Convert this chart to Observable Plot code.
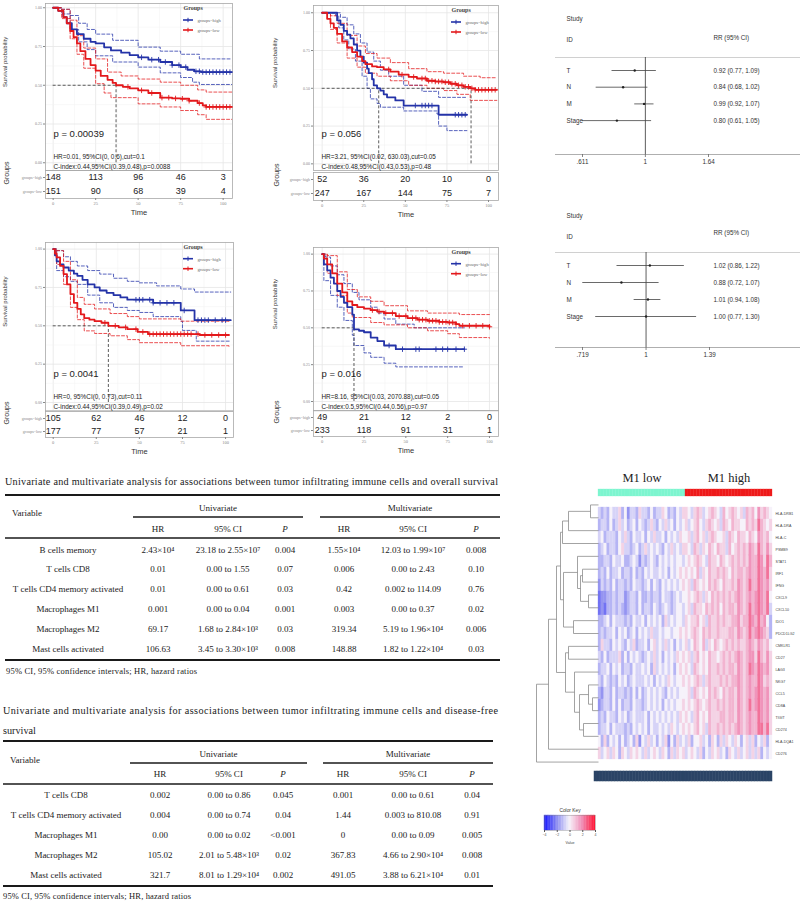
<!DOCTYPE html>
<html><head><meta charset="utf-8">
<script src="https://cdn.jsdelivr.net/npm/d3@7"></script>
<script src="https://cdn.jsdelivr.net/npm/@observablehq/plot@0.6"></script>
<style>
html,body{margin:0;padding:0;background:#fff;}
#root{position:relative;width:800px;height:901px;overflow:hidden;background:#fff;}
.box{position:absolute;}
.box svg{display:block;}
</style></head><body><div id="root"></div>
<script>
// ================= DATA =================
const groupNames = ["groups=high", "groups=low"];
const riskTimes = [0, 25, 50, 75, 100];
const gridMajorX = [0, 25, 50, 75, 100], gridMinorX = [12.5, 37.5, 62.5, 87.5];
const gridMajorY = [0, 0.25, 0.5, 0.75, 1], gridMinorY = [0.125, 0.375, 0.625, 0.875];

// Panel 1
const km1High = [[0,1],[3,0.98],[6,0.94],[8,0.9],[11,0.86],[14,0.83],[18,0.8],[22,0.78],[25,0.77],[30,0.745],[34,0.725],[40,0.71],[45,0.695],[50,0.68],[56,0.665],[63,0.65],[70,0.63],[75,0.617],[79,0.6],[83,0.59],[87,0.585],[105,0.585]];
const km1Low = [[0,1],[3,0.98],[6,0.94],[8,0.9],[10,0.85],[12,0.81],[14,0.77],[16,0.72],[19,0.67],[22,0.63],[25,0.595],[28,0.56],[32,0.535],[35,0.515],[37,0.5],[41,0.49],[45,0.48],[50,0.467],[56,0.45],[63,0.42],[70,0.415],[75,0.413],[80,0.4],[85,0.385],[88,0.37],[90,0.36],[105,0.36]];
const km1HighUp = [[0,1],[5,0.99],[10,0.95],[15,0.9],[20,0.86],[25,0.83],[35,0.79],[50,0.746],[63,0.72],[75,0.7],[86,0.67],[105,0.67]];
const km1HighLo = [[0,1],[5,0.96],[10,0.86],[15,0.78],[20,0.73],[25,0.69],[35,0.65],[50,0.617],[63,0.58],[75,0.55],[82,0.52],[86,0.505],[105,0.505]];
const km1LowUp = [[0,1],[5,0.99],[10,0.92],[14,0.82],[18,0.74],[25,0.67],[32,0.585],[40,0.56],[50,0.54],[63,0.52],[75,0.5],[85,0.47],[90,0.456],[105,0.456]];
const km1LowLo = [[0,1],[5,0.93],[10,0.8],[14,0.7],[18,0.61],[25,0.51],[30,0.45],[34,0.42],[50,0.38],[63,0.36],[75,0.337],[85,0.31],[90,0.28],[105,0.28]];
const km1CensHigh = [52,58,62,66,70,74,78,84,86,88,90,92,94,96,98,100,102,104];
const km1CensLow = [44,52,58,64,68,72,76,80,86,90,92,94,96,98,100,102,104];
const km1Median = [37];
const km1RiskHigh = [148,113,96,46,3], km1RiskLow = [151,90,68,39,4];
const km1P = "p = 0.00039";
const km1HR = "HR=0.01, 95%CI(0, 0.6),cut=0.1";
const km1C = "C-index:0.44,95%CI(0.39,0.48),p=0.0088";

// Panel 2
const km2High = [[0,1],[8,1],[9,0.95],[11,0.92],[13,0.88],[15,0.855],[17,0.83],[19,0.79],[21,0.75],[23,0.71],[25,0.67],[27,0.63],[28,0.6],[30,0.56],[31,0.52],[33,0.5],[35,0.485],[37,0.46],[39,0.44],[44,0.42],[49,0.386],[69,0.386],[70,0.325],[87,0.325]];
const km2Low = [[0,1],[3,0.96],[5,0.93],[7,0.9],[9,0.86],[12,0.81],[15,0.77],[18,0.74],[21,0.71],[24,0.68],[26,0.66],[30,0.645],[33,0.64],[37,0.625],[41,0.61],[46,0.59],[52,0.575],[57,0.565],[63,0.55],[68,0.545],[73,0.54],[77,0.53],[81,0.52],[85,0.51],[89,0.5],[92,0.49],[105,0.49]];
const km2HighUp = [[0,1],[9,1],[11,0.97],[15,0.92],[19,0.86],[23,0.8],[27,0.74],[31,0.68],[35,0.62],[40,0.58],[49,0.52],[60,0.48],[70,0.44],[87,0.44]];
const km2HighLo = [[0,1],[8,0.98],[10,0.9],[13,0.82],[16,0.76],[20,0.68],[24,0.58],[27,0.5],[29,0.43],[33,0.4],[35,0.375],[49,0.35],[69,0.33],[70,0.25],[75,0.22],[87,0.22]];
const km2LowUp = [[0,1],[5,0.98],[9,0.93],[15,0.85],[21,0.78],[26,0.73],[33,0.7],[41,0.67],[52,0.63],[63,0.61],[73,0.6],[85,0.58],[95,0.57],[105,0.57]];
const km2LowLo = [[0,1],[5,0.89],[9,0.8],[15,0.7],[21,0.64],[26,0.6],[33,0.58],[41,0.55],[52,0.52],[63,0.5],[73,0.485],[81,0.46],[89,0.42],[105,0.42]];
const km2CensHigh = [56,60,62,64,66,80,82,84,86];
const km2CensLow = [40,48,55,60,62,64,66,68,70,72,74,76,78,80,82,84,86,88,90,92,94,96,98,100,102,104];
const km2Median = [34, 89.5];
const km2RiskHigh = [52,36,20,10,0], km2RiskLow = [247,167,144,75,7];
const km2P = "p = 0.056";
const km2HR = "HR=3.21, 95%CI(0.02, 630.03),cut=0.05";
const km2C = "C-index:0.48,95%CI(0.43,0.53),p=0.48";

// Panel 3
const km3High = [[0,1],[1,0.96],[2,0.92],[4,0.9],[6,0.88],[9,0.86],[12,0.84],[14,0.826],[17,0.8],[20,0.77],[24,0.75],[27,0.73],[31,0.715],[35,0.7],[39,0.685],[43,0.67],[57,0.67],[58,0.65],[73,0.65],[74,0.6],[81,0.6],[82,0.537],[103,0.537]];
const km3Low = [[0,1],[1,0.97],[2,0.946],[4,0.89],[6,0.837],[8,0.77],[10,0.707],[12,0.65],[14,0.61],[16,0.575],[18,0.55],[21,0.54],[24,0.53],[28,0.52],[32,0.5],[38,0.49],[43,0.478],[49,0.46],[55,0.446],[85,0.44],[102,0.44]];
const km3HighUp = [[0,1],[2,0.99],[6,0.95],[10,0.92],[14,0.89],[20,0.86],[27,0.837],[35,0.81],[43,0.79],[50,0.78],[60,0.76],[74,0.74],[82,0.72],[103,0.72]];
const km3HighLo = [[0,1],[2,0.86],[6,0.82],[10,0.79],[14,0.77],[20,0.7],[27,0.65],[35,0.62],[43,0.6],[50,0.587],[58,0.56],[74,0.53],[75,0.47],[82,0.47],[83,0.4],[103,0.4]];
const km3LowUp = [[0,1],[2,0.99],[6,0.92],[10,0.8],[14,0.685],[18,0.64],[24,0.61],[33,0.58],[43,0.56],[50,0.545],[74,0.53],[102,0.52]];
const km3LowLo = [[0,1],[2,0.9],[6,0.77],[10,0.62],[14,0.54],[18,0.467],[24,0.45],[33,0.435],[43,0.41],[50,0.39],[74,0.37],[102,0.363]];
const km3CensHigh = [48,50,52,56,58,62,66,70,76,84,86,88,90,94,98,100];
const km3CensLow = [30,36,42,48,52,56,58,60,62,64,66,68,70,72,74,76,78,80,84,88,92,96,100];
const km3Median = [32];
const km3RiskHigh = [105,62,46,12,0], km3RiskLow = [177,77,57,21,1];
const km3P = "p = 0.0041";
const km3HR = "HR=0, 95%CI(0, 0.73),cut=0.11";
const km3C = "C-index:0.44,95%CI(0.39,0.49),p=0.02";

// Panel 4
const km4High = [[0,1],[1,0.93],[3,0.89],[5,0.84],[7,0.8],[9,0.75],[11,0.71],[13,0.67],[15,0.64],[18,0.59],[19,0.49],[22,0.48],[25,0.47],[29,0.434],[33,0.41],[37,0.38],[44,0.355],[85,0.355]];
const km4Low = [[0,1],[1,0.97],[3,0.93],[6,0.87],[9,0.8],[12,0.74],[15,0.68],[18,0.655],[21,0.64],[25,0.63],[29,0.62],[33,0.61],[37,0.6],[44,0.58],[51,0.566],[57,0.555],[63,0.548],[70,0.54],[75,0.536],[80,0.525],[82,0.514],[100,0.507]];
const km4HighUp = [[0,1],[2,0.98],[5,0.92],[9,0.86],[13,0.8],[18,0.74],[22,0.69],[29,0.64],[33,0.6],[37,0.56],[44,0.525],[55,0.5],[85,0.5]];
const km4HighLo = [[0,1],[1,0.82],[5,0.72],[9,0.64],[13,0.55],[18,0.45],[19,0.38],[25,0.33],[29,0.3],[37,0.26],[44,0.235],[85,0.235]];
const km4LowUp = [[0,1],[3,0.99],[9,0.88],[15,0.76],[21,0.71],[29,0.68],[37,0.65],[51,0.615],[63,0.6],[82,0.59],[100,0.59]];
const km4LowLo = [[0,1],[3,0.87],[9,0.72],[15,0.6],[18,0.57],[29,0.536],[37,0.52],[51,0.5],[63,0.48],[75,0.46],[82,0.434],[100,0.43]];
const km4CensHigh = [40,48,56,58,68,72,75,80,85];
const km4CensLow = [30,34,38,42,46,50,54,56,58,60,62,64,66,68,70,72,74,76,78,80,84,88,92,96,100];
const km4Median = [19];
const km4RiskHigh = [49,21,12,2,0], km4RiskLow = [233,118,91,31,1];
const km4P = "p = 0.016";
const km4HR = "HR=8.16, 95%CI(0.03, 2070.88),cut=0.05";
const km4C = "C-index:0.5,95%CI(0.44,0.56),p=0.97";

// Forest plots
const forestVars = ["T", "N", "M", "Stage"];
const forest1RR = [0.92, 0.84, 0.99, 0.80], forest1Lo = [0.77, 0.68, 0.92, 0.61], forest1Hi = [1.09, 1.02, 1.07, 1.05];
const forest1Ticks = [0.611, 1, 1.64], forest1TickLabels = [".611", "1", "1.64"];
const forest2RR = [1.02, 0.88, 1.01, 1.00], forest2Lo = [0.86, 0.72, 0.94, 0.77], forest2Hi = [1.22, 1.07, 1.08, 1.30];
const forest2Ticks = [0.719, 1, 1.39], forest2TickLabels = [".719", "1", "1.39"];

// Tables
const tableColumns = ["HR", "95% CI", "P", "HR", "95% CI", "P"];
const osTitle = ["Univariate and multivariate analysis for associations between tumor infiltrating immune cells and overall survival"];
const osVars = ["B cells memory","T cells CD8","T cells CD4 memory activated","Macrophages M1","Macrophages M2","Mast cells activated"];
const osUniHR = ["2.43×10⁴","0.01","0.01","0.001","69.17","106.63"];
const osUniCI = ["23.18 to 2.55×10⁷","0.00 to 1.55","0.00 to 0.61","0.00 to 0.04","1.68 to 2.84×10³","3.45 to 3.30×10³"];
const osUniP = ["0.004","0.07","0.03","0.001","0.03","0.008"];
const osMulHR = ["1.55×10⁴","0.006","0.42","0.003","319.34","148.88"];
const osMulCI = ["12.03 to 1.99×10⁷","0.00 to 2.43","0.002 to 114.09","0.00 to 0.37","5.19 to 1.96×10⁴","1.82 to 1.22×10⁴"];
const osMulP = ["0.008","0.10","0.76","0.02","0.006","0.03"];
const dfsTitle = ["Univariate and multivariate analysis for associations between tumor infiltrating immune cells and disease-free", "survival"];
const dfsVars = ["T cells CD8","T cells CD4 memory activated","Macrophages M1","Macrophages M2","Mast cells activated"];
const dfsUniHR = ["0.002","0.004","0.00","105.02","321.7"];
const dfsUniCI = ["0.00 to 0.86","0.00 to 0.74","0.00 to 0.02","2.01 to 5.48×10³","8.01 to 1.29×10⁴"];
const dfsUniP = ["0.045","0.04","<0.001","0.02","0.002"];
const dfsMulHR = ["0.001","1.44","0","367.83","491.05"];
const dfsMulCI = ["0.00 to 0.61","0.003 to 810.08","0.00 to 0.09","4.66 to 2.90×10⁴","3.88 to 6.21×10⁴"];
const dfsMulP = ["0.04","0.91","0.005","0.008","0.01"];
const footnote = "95% CI, 95% confidence intervals; HR, hazard ratios";

// Heatmap
const heatGenes = ["HLA-DRB1","HLA-DRA","HLA-C","PSMB9","STAT1","IRF1","IFNG","CXCL9","CXCL10","IDO1","PDCD1LG2","CMKLR1","CD27","LAG3","NKG7","CCL5","CD8A","TIGIT","CD274","HLA-DQA1","CD276"];
const heatGroups = ["M1 low", "M1 high"];
const heatGroupSizes = [30, 30];
// one digit per sample: 1 = strong blue ... 5 = neutral ... 9 = strong red
const heatRows = [
"4343544635 2443644353 4465343546 6546764567 6547567656 4767586765",
"3443534645 3453543464 3546453545 6456754676 5647657665 5767697656",
"4534443546 4354453546 4453545465 5646756467 6556476576 6576587675",
"3453443564 4345346454 5435464546 6547646576 5766475676 7687697686",
"3344354453 3454243454 3545454554 5656765476 6576567676 7687798697",
"3435344534 4353435454 4545354565 6565746576 6767657677 6787798796",
"2434353443 4354434535 4354545456 5647656576 7657667687 6797798786",
"1223343442 3443533434 4354434545 5656764657 6767676787 6787898795",
"1213343432 3443534435 4345434554 5647665767 6757677687 6797898794",
"3345354443 4354453545 4536454554 6566756476 6767667786 7798797853",
"3434453545 3453545464 4545545565 6567657676 6766677687 6797898763",
"3644354543 5463445356 4546453545 6457657465 7656767676 6787687675",
"4353444635 3545434546 4535454656 5646756576 6567676787 6788697686",
"3445354534 4354454536 4545453565 6547656576 6767677687 6798798786",
"4354343545 3454445453 5454654556 5656764676 6676767787 6787798676",
"3244353443 4353534545 4543545455 5647656576 7657677687 6787898786",
"2344353534 4354434545 4535454556 5656765676 6767677687 6797898786",
"3435443545 3454445354 5454545465 6546756576 6677677687 6787798786",
"3445354443 4354545354 4545465456 5656756476 6767676787 6787799796",
"5363545353 4536254645 3546253645 4635564536 5364654653 5646354635",
"6456465365 4656546456 5465364656 4565463546 5645365464 5646463545"
];
// dendrogram: [mergeHeight, left, right], leaves = row index
const heatTree = [62, [50, [42, [38, [36, [30, [8, 0, 1], 2], 3], [35, [21, 4, [18, [16, 5, 6], [10, 7, 8]]], [25, 9, 10]]], [33, [30, 11, 12], [24, 13, [19, [10, 14, [6, 15, 16]], [15, 17, 18]]]]], 19], 20];
const colorKeyTicks = [-4, -2, 0, 2, 4];

// ================= STYLE / LAYOUT =================
const SANS = "Liberation Sans, Arial, sans-serif";
const SERIF = "Liberation Serif, Times New Roman, serif";
const BLUE = "#2433a8", RED = "#e3191c";
const root = document.getElementById("root");

function place(el, left, top, w) {
  const d = document.createElement("div");
  d.className = "box"; d.style.left = left + "px"; d.style.top = top + "px";
  if (w) d.style.width = w + "px";
  d.appendChild(el); root.appendChild(d);
}
const svgStyle = {background: "transparent", overflow: "visible", fontFamily: SANS};

// overlay svg for tables and legend keys
const tsvg = d3.select(root).append("svg").attr("width", 800).attr("height", 901)
  .style("position", "absolute").style("left", 0).style("top", 0).style("pointer-events", "none")
  .style("font-family", SERIF).style("z-index", 5);

function stepAt(curve, t) {
  let s = curve[0][1];
  for (const [ti, si] of curve) { if (ti <= t) s = si; else break; }
  return s;
}

function kmPanel(d, L) {
  const W = 245;
  const mL = L.fx[0] - L.left, mR = W - (L.fx[1] - L.left);
  const top = L.fy[0] - 2, H = L.fy[1] - top + 2;
  const sets = [{c: BLUE, s: d.high, up: d.highUp, lo: d.highLo, cens: d.censHigh},
                {c: RED, s: d.low, up: d.lowUp, lo: d.lowLo, cens: d.censLow}];
  const X = p => p[0], Y = p => p[1];
  const marks = [
    Plot.ruleX(gridMinorX, {stroke: "#f1f1f1", strokeWidth: 0.5}),
    Plot.ruleX(gridMajorX, {stroke: "#e6e6e6", strokeWidth: 0.8}),
    Plot.ruleY(gridMinorY, {stroke: "#f1f1f1", strokeWidth: 0.5}),
    Plot.ruleY(gridMajorY, {stroke: "#e6e6e6", strokeWidth: 0.8}),
    Plot.frame({stroke: "#a8a8a8", strokeWidth: 0.8}),
    Plot.axisY(gridMajorY, {tickFormat: d3.format(".2f"), fontSize: 4, tickSize: 2, tickPadding: 1.5, color: "#888", fontFamily: SERIF, label: null}),
    Plot.text(["Survival probability"], {text: t => t, frameAnchor: "left", rotate: -90, dx: -(mL - 5), fontSize: 6, fontFamily: SANS, fill: "#333"})
  ];
  for (const g of sets) {
    marks.push(Plot.line(g.up, {x: X, y: Y, curve: "step-after", stroke: g.c, strokeWidth: 0.9, strokeDasharray: "3,2", strokeOpacity: 0.85}));
    marks.push(Plot.line(g.lo, {x: X, y: Y, curve: "step-after", stroke: g.c, strokeWidth: 0.9, strokeDasharray: "3,2", strokeOpacity: 0.85}));
  }
  marks.push(Plot.ruleY([0.5], {x1: 0, x2: d3.max(d.median), stroke: "#333", strokeWidth: 0.8, strokeDasharray: "3,2"}));
  marks.push(Plot.ruleX(d.median, {y1: 0, y2: 0.5, stroke: "#333", strokeWidth: 0.8, strokeDasharray: "3,2"}));
  for (const g of sets) {
    marks.push(Plot.line(g.s, {x: X, y: Y, curve: "step-after", stroke: g.c, strokeWidth: 1.8}));
    marks.push(Plot.dot(g.cens, {x: t => t, y: t => stepAt(g.s, t), symbol: "plus", r: 1.9, stroke: g.c, strokeWidth: 0.9}));
  }
  const ann = {frameAnchor: "bottom-left", lineAnchor: "middle", textAnchor: "start", fontFamily: SANS, fill: "#222", dx: 8};
  marks.push(
    Plot.text([d.p], {...ann, text: t => t, dy: -37, fontSize: 9.5}),
    Plot.text([d.hr], {...ann, text: t => t, dy: -13.5, fontSize: 6.4}),
    Plot.text([d.ci], {...ann, text: t => t, dy: -3.5, fontSize: 6.4}),
    Plot.text(["Groups"], {text: t => t, frameAnchor: "top-left", lineAnchor: "middle", dx: 138, dy: 5, textAnchor: "start", fontSize: 6, fontWeight: "bold", fontFamily: SERIF, fill: "#444"})
  );
  groupNames.forEach((name, i) => {
    marks.push(Plot.text([name], {text: t => t, frameAnchor: "top-left", lineAnchor: "middle", dx: 152, dy: 17 + i * 10, textAnchor: "start", fill: "#666", fontSize: 4.6, fontFamily: SERIF}));
    // legend key glyph (line + cross) in overlay
    const cx = L.fx[0] + 143, cy = L.fy[0] + 17 + i * 10, c = sets[i].c;
    tsvg.append("line").attr("x1", cx - 5).attr("x2", cx + 5).attr("y1", cy).attr("y2", cy).attr("stroke", c).attr("stroke-width", 1.6);
    tsvg.append("line").attr("x1", cx).attr("x2", cx).attr("y1", cy - 2.2).attr("y2", cy + 2.2).attr("stroke", c).attr("stroke-width", 1);
  });
  const curvePlot = Plot.plot({
    width: W, height: H, marginLeft: mL, marginRight: mR, marginTop: 2, marginBottom: 2,
    x: {domain: L.xd, axis: null}, y: {domain: L.yd},
    style: svgStyle, marks
  });
  place(curvePlot, L.left, top, W);

  const riskData = [];
  riskTimes.forEach((t, i) => {
    riskData.push({t, g: groupNames[0], n: d.riskHigh[i]});
    riskData.push({t, g: groupNames[1], n: d.riskLow[i]});
  });
  const rTop = L.ry[0] - 2, rH = L.ry[1] - rTop + 20;
  const riskPlot = Plot.plot({
    width: W, height: rH, marginLeft: mL, marginRight: mR, marginTop: 2, marginBottom: 20,
    x: {domain: L.xd}, y: {domain: groupNames},
    style: svgStyle,
    marks: [
      Plot.frame({stroke: "#a8a8a8", strokeWidth: 0.8}),
      Plot.text(riskData, {x: "t", y: "g", text: "n", fontSize: 9, fontFamily: SANS, fill: "#222"}),
      Plot.axisY({fontSize: 4, tickSize: 2, tickPadding: 1.5, color: "#888", fontFamily: SERIF, label: null}),
      Plot.axisX(riskTimes, {fontSize: 4.5, tickSize: 2, tickPadding: 1.5, color: "#888", fontFamily: SERIF, label: null}),
      Plot.text(["Time"], {text: t => t, frameAnchor: "bottom", lineAnchor: "middle", dy: 14, fontSize: 7.5, fontFamily: SANS, fill: "#333"}),
      Plot.text(["Groups"], {text: t => t, frameAnchor: "left", rotate: -90, dx: -(mL - 6), fontSize: 7, fontFamily: SANS, fill: "#333"})
    ]
  });
  place(riskPlot, L.left, rTop, W);
}

const kmData = [
  {high: km1High, low: km1Low, highUp: km1HighUp, highLo: km1HighLo, lowUp: km1LowUp, lowLo: km1LowLo, censHigh: km1CensHigh, censLow: km1CensLow, median: km1Median, riskHigh: km1RiskHigh, riskLow: km1RiskLow, p: km1P, hr: km1HR, ci: km1C},
  {high: km2High, low: km2Low, highUp: km2HighUp, highLo: km2HighLo, lowUp: km2LowUp, lowLo: km2LowLo, censHigh: km2CensHigh, censLow: km2CensLow, median: km2Median, riskHigh: km2RiskHigh, riskLow: km2RiskLow, p: km2P, hr: km2HR, ci: km2C},
  {high: km3High, low: km3Low, highUp: km3HighUp, highLo: km3HighLo, lowUp: km3LowUp, lowLo: km3LowLo, censHigh: km3CensHigh, censLow: km3CensLow, median: km3Median, riskHigh: km3RiskHigh, riskLow: km3RiskLow, p: km3P, hr: km3HR, ci: km3C},
  {high: km4High, low: km4Low, highUp: km4HighUp, highLo: km4HighLo, lowUp: km4LowUp, lowLo: km4LowLo, censHigh: km4CensHigh, censLow: km4CensLow, median: km4Median, riskHigh: km4RiskHigh, riskLow: km4RiskLow, p: km4P, hr: km4HR, ci: km4C}
];
const kmLayout = [
  {left: 0, fx: [45, 232], fy: [3, 170], xd: [-4.5, 105.5], yd: [-0.05, 1.0275], ry: [170, 198]},
  {left: 270, fx: [313, 498], fy: [5, 170], xd: [-5.2, 106], yd: [-0.044, 1.048], ry: [172, 200]},
  {left: 0, fx: [45, 233], fy: [241.7, 410], xd: [-4.47, 104.6], yd: [-0.054, 1.043], ry: [411, 437]},
  {left: 270, fx: [313, 498], fy: [246.7, 410], xd: [-5.2, 105.4], yd: [-0.063, 1.045], ry: [410, 436]}
];
kmData.forEach((d, i) => kmPanel(d, kmLayout[i]));

// ---------- Forest plots ----------
function forestPlot(d, L) {
  const W = 245, H = 175;
  const rows = d.vars.map((v, i) => ({v, i, rr: d.rr[i], lo: d.lo[i], hi: d.hi[i],
    ci: `${d.rr[i].toFixed(2)} (${d.lo[i].toFixed(2)}, ${d.hi[i].toFixed(2)})`}));
  const ticks = d.ticks.map((v, i) => ({v, label: d.tickLabels[i]}));
  const yTop = (L.frameTop - L.rowY0) / L.step, yBot = (L.frameBottom - L.rowY0) / L.step;
  // log scale: extend domain so that the outer ticks sit at the measured pixels
  const t0 = d.ticks[0], t1 = d.ticks[d.ticks.length - 1];
  const k = (L.xr[1] - L.xr[0]) / (Math.log(t1) - Math.log(t0));
  const dom = [Math.exp(Math.log(t0) - L.xr[0] / k), Math.exp(Math.log(t1) + (W - L.xr[1]) / k)];
  const fs = 6.3;
  const head = {frameAnchor: "top-left", lineAnchor: "middle", textAnchor: "start", fontSize: fs, fill: "#333"};
  const p = Plot.plot({
    width: W, height: H, marginLeft: 0, marginRight: 0,
    marginTop: L.frameTop - L.top, marginBottom: H - (L.frameBottom - L.top),
    x: {type: "log", domain: dom, range: [0, W], axis: null},
    y: {domain: [yBot, yTop], axis: null},
    style: svgStyle,
    marks: [
      Plot.ruleY([yTop], {stroke: "#c4c4c4", strokeWidth: 0.8}),
      Plot.ruleY([yBot], {stroke: "#9a9a9a", strokeWidth: 0.8}),
      Plot.ruleX([1], {stroke: "#333", strokeWidth: 0.8}),
      Plot.ruleY(rows, {y: "i", x1: "lo", x2: "hi", stroke: "#444", strokeWidth: 0.8}),
      Plot.dot(rows, {x: "rr", y: "i", r: 1.2, fill: "#222"}),
      Plot.text(rows, {y: "i", frameAnchor: "left", dx: 11, text: "v", textAnchor: "start", fontSize: fs, fill: "#333"}),
      Plot.text(rows, {y: "i", frameAnchor: "left", dx: 158, text: "ci", textAnchor: "start", fontSize: fs, fill: "#333"}),
      Plot.ruleX(ticks, {x: "v", y1: yBot, y2: yBot + 3 / L.step, stroke: "#666", strokeWidth: 0.8}),
      Plot.text(ticks, {x: "v", text: "label", frameAnchor: "bottom", lineAnchor: "middle", dy: 7, fontSize: fs, fill: "#333"}),
      Plot.text(["Study"], {...head, text: t => t, dx: 11, dy: L.studyDy}),
      Plot.text(["ID"], {...head, text: t => t, dx: 11, dy: L.idDy}),
      Plot.text(["RR (95% CI)"], {...head, text: t => t, dx: 158, dy: L.rrDy})
    ]
  });
  place(p, L.left, L.top, W);
}
forestPlot({vars: forestVars, rr: forest1RR, lo: forest1Lo, hi: forest1Hi, ticks: forest1Ticks, tickLabels: forest1TickLabels},
  {left: 555, top: 0, frameTop: 57, frameBottom: 154, rowY0: 70, step: 16.7, xr: [27, 153], studyDy: -39, idDy: -18, rrDy: -20});
forestPlot({vars: forestVars, rr: forest2RR, lo: forest2Lo, hi: forest2Hi, ticks: forest2Ticks, tickLabels: forest2TickLabels},
  {left: 555, top: 200, frameTop: 252, frameBottom: 347, rowY0: 265, step: 17, xr: [27, 154], studyDy: -37, idDy: -16, rrDy: -20});

// ---------- Heatmap ----------
const heatDigits = heatRows.map(r => r.replace(/\s/g, ""));
const nCols = d3.sum(heatGroupSizes);
const cols = d3.range(nCols);
const colGroup = c => c < heatGroupSizes[0] ? heatGroups[0] : heatGroups[1];
const heatCells = [];
heatDigits.forEach((r, gi) => {
  for (let c = 0; c < Math.min(r.length, nCols); c++) heatCells.push({g: heatGenes[gi], c, v: (+r[c] - 5) * 0.6});
});
const colorOpts = {type: "linear", domain: [-4, -2, 0, 2, 4], range: ["#1010ff", "#8a8af0", "#f6f2fa", "#ef8ab4", "#ff1030"], interpolate: "rgb"};
const HM = {left: 530, top: 465, width: 270, height: 320, mL: 68, mR: 28, mT: 33, mB: 17};

place(Plot.plot({
  width: HM.width, height: HM.height, marginLeft: HM.mL, marginRight: HM.mR, marginTop: HM.mT, marginBottom: HM.mB,
  x: {type: "band", domain: cols, padding: 0, axis: null},
  y: {type: "band", domain: heatGenes, padding: 0},
  color: colorOpts, style: svgStyle,
  marks: [
    Plot.cell(heatCells, {x: "c", y: "g", fill: "v", stroke: "v", strokeWidth: 0.3, inset: 0}),
    Plot.axisY({anchor: "right", tickSize: 0, tickPadding: 3, fontSize: 3.6, color: "#444", label: null})
  ]
}), HM.left, HM.top, HM.width);

// group annotation bar + titles
place(Plot.plot({
  width: HM.width, height: 34, marginLeft: HM.mL, marginRight: HM.mR, marginTop: 24, marginBottom: 3,
  x: {type: "band", domain: cols, padding: 0, axis: null},
  color: {type: "ordinal", domain: heatGroups, range: ["#7df5cf", "#ee1a1a"]},
  style: svgStyle,
  marks: [
    Plot.cell(cols, {x: c => c, fill: colGroup, stroke: colGroup, strokeWidth: 0.3, inset: 0}),
    Plot.text(heatGroups, {x: (g, i) => i === 0 ? Math.floor(heatGroupSizes[0] / 2) : heatGroupSizes[0] + Math.floor(heatGroupSizes[1] / 2),
      text: g => g, frameAnchor: "top", lineAnchor: "middle", dx: -1.45, dy: -12, fontSize: 12.5, fontFamily: SERIF, fill: "#222"})
  ]
}), HM.left, HM.top, HM.width);

// sample label strip (illegible column labels)
place(Plot.plot({
  width: HM.width, height: 14, marginLeft: HM.mL - 4, marginRight: HM.mR, marginTop: 2, marginBottom: 2,
  x: {type: "band", domain: cols, padding: 0, axis: null},
  style: svgStyle,
  marks: [Plot.cell(cols, {x: c => c, fill: "#2b4466", stroke: "#2b4466", strokeWidth: 0.5, inset: 0})]
}), HM.left, 769, HM.width);

// dendrogram
const dendroSegs = [];
function walk(n) {
  if (typeof n === "number") return {y: n + 0.5, h: 0};
  const [h, a, b] = n;
  const A = walk(a), B = walk(b);
  dendroSegs.push({x1: A.h, y1: A.y, x2: h, y2: A.y}, {x1: B.h, y1: B.y, x2: h, y2: B.y}, {x1: h, y1: A.y, x2: h, y2: B.y});
  return {y: (A.y + B.y) / 2, h};
}
walk(heatTree);
place(Plot.plot({
  width: HM.mL, height: HM.height, marginLeft: 0, marginRight: 0, marginTop: HM.mT, marginBottom: HM.mB,
  x: {domain: [0, heatTree[0]], range: [HM.mL, 6], axis: null},
  y: {domain: [0, heatGenes.length], range: [HM.mT, HM.height - HM.mB], axis: null},
  style: svgStyle,
  marks: [Plot.link(dendroSegs, {x1: "x1", y1: "y1", x2: "x2", y2: "y2", stroke: "#8c8c8c", strokeWidth: 0.8})]
}), HM.left, HM.top, HM.mL);

// color key
const keySteps = d3.range(-4, 4, 0.25);
place(Plot.plot({
  width: 72, height: 48, marginLeft: 9, marginRight: 12, marginTop: 15, marginBottom: 18,
  x: {domain: [-4, 4]}, color: colorOpts, style: svgStyle,
  marks: [
    Plot.rect(keySteps, {x1: d => d, x2: d => d + 0.25, fill: d => d + 0.125, stroke: d => d + 0.125, strokeWidth: 0.3}),
    Plot.frame({stroke: "#888", strokeWidth: 0.4}),
    Plot.axisX(colorKeyTicks, {fontSize: 3.5, tickSize: 2, tickPadding: 1, color: "#555", label: null}),
    Plot.text(["Color Key"], {text: t => t, frameAnchor: "top", lineAnchor: "middle", dy: -5, fontSize: 4.8, fill: "#333"}),
    Plot.text(["Value"], {text: t => t, frameAnchor: "bottom", lineAnchor: "middle", dy: 12, fontSize: 3.6, fill: "#444"})
  ]
}), 535, 800, 72);

// ---------- Tables ----------
function tText(str, x, y, o = {}) {
  const t = tsvg.append("text").attr("x", x).attr("y", y).attr("dominant-baseline", "central")
    .attr("text-anchor", o.anchor || "middle").attr("font-size", o.size || 9).attr("fill", o.fill || "#1a1a1a").text(str);
  if (o.italic) t.attr("font-style", "italic");
  if (o.len) t.attr("textLength", o.len).attr("lengthAdjust", "spacing");
  return t;
}
function tRule(x1, x2, y, w) {
  tsvg.append("line").attr("x1", x1).attr("x2", x2).attr("y1", y).attr("y2", y).attr("stroke", "#1a1a1a").attr("stroke-width", w);
}
function drawTable(T, L) {
  T.title.forEach((line, k) => tText(line, L.titleX, L.titleY[k], {anchor: "start", size: 10.2, len: (T.title.length === 1 || k < T.title.length - 1) ? L.titleLen : null}));
  tRule(L.ruleX[0], L.ruleX[1], L.topRule, 2);
  tText("Variable", L.varX, L.varY, {anchor: "start"});
  tText("Univariate", (L.ul1[0] + L.ul1[1]) / 2, L.groupY);
  tText("Multivariate", (L.ul2[0] + L.ul2[1]) / 2, L.groupY);
  tRule(L.ul1[0], L.ul1[1], L.ulY, 1.3);
  tRule(L.ul2[0], L.ul2[1], L.ulY, 1.3);
  tableColumns.forEach((c, j) => tText(c, L.cols[j + 1], L.subY, {italic: c === "P"}));
  tRule(L.ruleX[0], L.ruleX[1], L.midRule, 1.4);
  T.vars.forEach((v, i) => {
    const y = L.rowY0 + i * L.rowStep;
    const vals = [v, T.uHR[i], T.uCI[i], T.uP[i], T.mHR[i], T.mCI[i], T.mP[i]];
    vals.forEach((s, j) => tText(s, L.cols[j], y));
  });
  tRule(L.ruleX[0], L.ruleX[1], L.bottomRule, 2);
  tText(footnote, L.footX, L.footY, {anchor: "start", size: 8.5, len: L.footLen});
}
drawTable({title: osTitle, vars: osVars, uHR: osUniHR, uCI: osUniCI, uP: osUniP, mHR: osMulHR, mCI: osMulCI, mP: osMulP},
  {titleX: 5, titleY: [481], titleLen: 493, topRule: 495, ruleX: [5, 500], varX: 12, varY: 513, groupY: 508, ul1: [133, 303], ul2: [320, 500], ulY: 517,
   subY: 529, midRule: 538, rowY0: 549.5, rowStep: 19.9, bottomRule: 660, footX: 6, footY: 671, footLen: 191, cols: [68, 158, 228, 285, 344, 413, 476]});
drawTable({title: dfsTitle, vars: dfsVars, uHR: dfsUniHR, uCI: dfsUniCI, uP: dfsUniP, mHR: dfsMulHR, mCI: dfsMulCI, mP: dfsMulP},
  {titleX: 3, titleY: [710, 730], titleLen: 495, topRule: 741, ruleX: [3, 493], varX: 10, varY: 760, groupY: 754, ul1: [130, 307], ul2: [323, 493], ulY: 763,
   subY: 774, midRule: 784, rowY0: 795, rowStep: 20, bottomRule: 886, footX: 3, footY: 896, footLen: 188, cols: [66, 160, 229, 283, 343, 413, 472]});
</script></body></html>
